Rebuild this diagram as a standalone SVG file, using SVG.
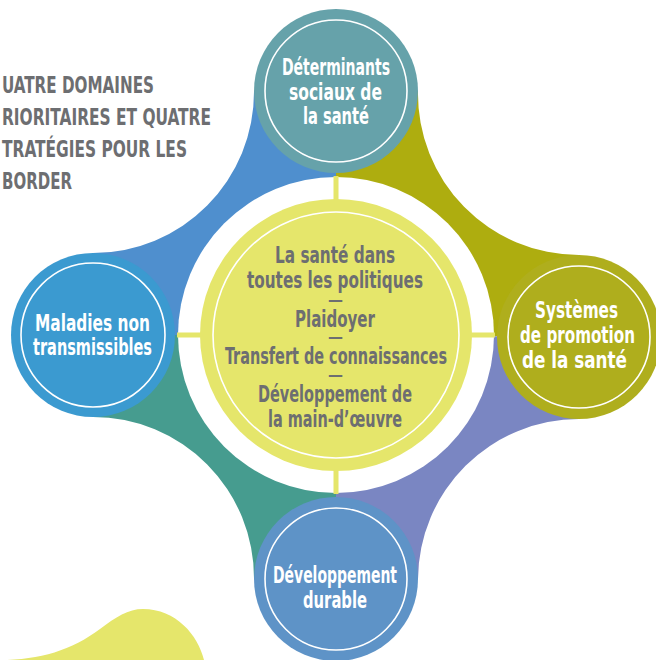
<svg xmlns="http://www.w3.org/2000/svg" width="656" height="660" viewBox="0 0 656 660">
<style>
text{font-family:"Liberation Sans Narrow","DejaVu Sans Condensed","Liberation Sans",sans-serif;font-weight:bold;font-size:23px}
.w{fill:#ffffff;text-anchor:middle}
.g{fill:#6D6E71;text-anchor:middle}
.d{fill:#6D6E71;text-anchor:middle;font-size:15px}
.h{fill:#6D6E71;font-size:23px}
.ring{fill:none;stroke:#ffffff;stroke-width:1.6}
</style>
<rect width="656" height="660" fill="#ffffff"/>
<g id="title">
<text class="h" x="2" y="93" textLength="152" lengthAdjust="spacingAndGlyphs">UATRE DOMAINES</text>
<text class="h" x="2" y="125" textLength="209" lengthAdjust="spacingAndGlyphs">RIORITAIRES ET QUATRE</text>
<text class="h" x="2" y="157" textLength="185" lengthAdjust="spacingAndGlyphs">TRATÉGIES POUR LES</text>
<text class="h" x="2" y="189" textLength="70" lengthAdjust="spacingAndGlyphs">BORDER</text>
</g>
<g id="blob">
<path d="M0 660 C40 660 72 650 100 629 C116 617 128 609 143 609 C176 609 198 635 204 660 Z" fill="#E5E66B"/>
</g>
<g id="connectors">
<path d="M336 335 L336 91 L254 91 A161 161 0 0 1 93 253 L93 335 Z" fill="#4F8FCE"/>
<path d="M336 335 L336 91 L418 91 A161 161 0 0 0 579 255 L579 337 Z" fill="#AEAD0F"/>
<path d="M336 335 L579 337 L579 419 A161 161 0 0 0 418 579 L336 579 Z" fill="#7A86C2"/>
<path d="M336 335 L336 579 L254 579 A161 161 0 0 0 93 417 L93 335 Z" fill="#469C8F"/>
<circle cx="336" cy="335" r="158" fill="#ffffff"/>
<g fill="#E5E66B">
<rect x="333.5" y="176" width="5" height="26"/>
<rect x="333.5" y="468" width="5" height="26"/>
<rect x="177" y="332.5" width="26" height="5"/>
<rect x="469" y="332.5" width="26" height="5"/>
</g>
</g>
<g id="center">
<circle cx="336" cy="335" r="136" fill="#E5E66B"/>
<circle cx="336" cy="335" r="123" class="ring"/>
<text class="g" x="335" y="263" textLength="120" lengthAdjust="spacingAndGlyphs">La santé dans</text>
<text class="g" x="335" y="288" textLength="176" lengthAdjust="spacingAndGlyphs">toutes les politiques</text>
<text class="d" x="335.5" y="305" textLength="15" lengthAdjust="spacingAndGlyphs">—</text>
<text class="g" x="335" y="327" textLength="80" lengthAdjust="spacingAndGlyphs">Plaidoyer</text>
<text class="d" x="335.5" y="342" textLength="15" lengthAdjust="spacingAndGlyphs">—</text>
<text class="g" x="336" y="364" textLength="222" lengthAdjust="spacingAndGlyphs">Transfert de connaissances</text>
<text class="d" x="335.5" y="380" textLength="15" lengthAdjust="spacingAndGlyphs">—</text>
<text class="g" x="335" y="402" textLength="154" lengthAdjust="spacingAndGlyphs">Développement de</text>
<text class="g" x="335" y="427" textLength="134" lengthAdjust="spacingAndGlyphs">la main-d’œuvre</text>
</g>
<g id="top">
<circle cx="336" cy="91" r="82" fill="#66A2AA"/>
<circle cx="336" cy="91" r="71" class="ring"/>
<text class="w" x="336" y="75" textLength="108" lengthAdjust="spacingAndGlyphs">Déterminants</text>
<text class="w" x="335.5" y="100" textLength="93" lengthAdjust="spacingAndGlyphs">sociaux de</text>
<text class="w" x="336" y="124" textLength="66" lengthAdjust="spacingAndGlyphs">la santé</text>
</g>
<g id="left">
<circle cx="93" cy="335" r="82" fill="#3B9AD0"/>
<circle cx="93" cy="335" r="72" class="ring"/>
<text class="w" x="92.5" y="331" textLength="115" lengthAdjust="spacingAndGlyphs">Maladies non</text>
<text class="w" x="92.5" y="355" textLength="119" lengthAdjust="spacingAndGlyphs">transmissibles</text>
</g>
<g id="right">
<circle cx="579" cy="337" r="82" fill="#AFAE1D"/>
<circle cx="579" cy="337" r="71" class="ring"/>
<text class="w" x="576.5" y="318" textLength="83" lengthAdjust="spacingAndGlyphs">Systèmes</text>
<text class="w" x="577.5" y="343" textLength="115" lengthAdjust="spacingAndGlyphs">de promotion</text>
<text class="w" x="574.5" y="368" textLength="105" lengthAdjust="spacingAndGlyphs">de la santé</text>
</g>
<g id="bottom">
<circle cx="336" cy="579" r="82" fill="#5E93C7"/>
<circle cx="336" cy="579" r="71" class="ring"/>
<text class="w" x="335" y="583" textLength="124" lengthAdjust="spacingAndGlyphs">Développement</text>
<text class="w" x="335" y="608" textLength="64" lengthAdjust="spacingAndGlyphs">durable</text>
</g>
</svg>
